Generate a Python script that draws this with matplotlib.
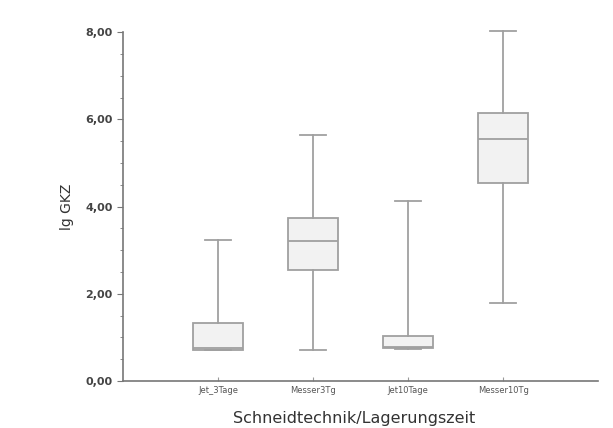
import matplotlib
matplotlib.use("Agg")
import matplotlib.pyplot as plt
from matplotlib.ticker import MultipleLocator, FixedLocator

categories = ["Jet_3Tage", "Messer3Tg", "Jet10Tage", "Messer10Tg"]
whislo = [0.70, 0.71, 0.74, 1.79]
q1 = [0.72, 2.55, 0.76, 4.54]
med = [0.76, 3.20, 0.78, 5.55]
q3 = [1.33, 3.74, 1.03, 6.15]
whishi = [3.23, 5.64, 4.13, 8.02]
yticklabels = ["0,00", "2,00", "4,00", "6,00", "8,00"]

fig = plt.figure(figsize=(6.13, 4.28), dpi=100)
ax = fig.add_axes([0.2007, 0.110, 0.775, 0.815])

stats = []
for i, c in enumerate(categories):
    stats.append(dict(label=c, whislo=whislo[i], q1=q1[i], med=med[i],
                      q3=q3[i], whishi=whishi[i], fliers=[]))

gray = "#a0a0a0"
res = ax.bxp(stats, positions=[1, 2, 3, 4], widths=0.53, patch_artist=True,
             showfliers=False,
             boxprops=dict(facecolor="#f2f2f2", edgecolor=gray, linewidth=1.3),
             whiskerprops=dict(color=gray, linewidth=1.3),
             capprops=dict(color=gray, linewidth=1.3),
             medianprops=dict(color=gray, linewidth=1.3),
             capwidths=0.28)
for k in res:
    for a in res[k]:
        a.set_clip_on(False)

ax.set_xlim(0, 5)
ax.set_ylim(0, 8)
ax.yaxis.set_major_locator(FixedLocator([0, 2, 4, 6, 8]))
ax.set_yticklabels(yticklabels, fontsize=8, fontweight="bold", color="#444444")
ax.yaxis.set_minor_locator(MultipleLocator(0.5))
ax.set_xticks([1, 2, 3, 4])
ax.set_xticklabels(categories, fontsize=6, color="#555555")
ax.tick_params(axis="y", which="major", length=4, color="#777777", direction="out")
ax.tick_params(axis="y", which="minor", length=2.5, color="#777777")
ax.tick_params(axis="x", length=3, color="#999999", direction="in")

for s in ["top", "right"]:
    ax.spines[s].set_visible(False)
for s in ["left", "bottom"]:
    ax.spines[s].set_color("#777777")
    ax.spines[s].set_linewidth(1.2)

ax.set_ylabel("lg GKZ", fontsize=10, color="#333333", labelpad=8)
ax.set_xlabel("Schneidtechnik/Lagerungszeit", fontsize=11.5, color="#333333")
ax.xaxis.set_label_coords(0.232, -0.085, transform=ax.transAxes)
ax.xaxis.label.set_horizontalalignment("left")

fig.savefig("out.png", dpi=100, facecolor="white")
